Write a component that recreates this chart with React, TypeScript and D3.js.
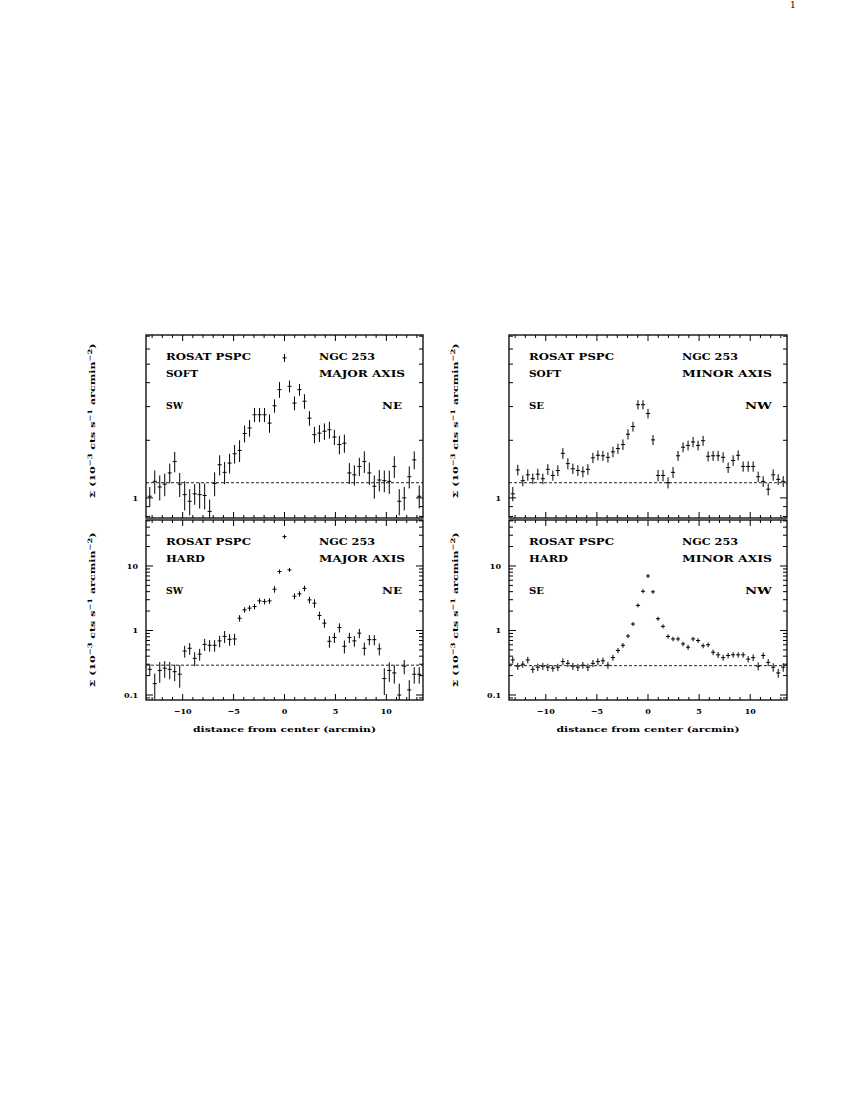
import React from "react";
import * as d3 from "d3";

// bin centres (arcmin from centre)
const distances = [
  -13.23, -12.74, -12.25, -11.76, -11.27, -10.78, -10.29, -9.8, -9.31, -8.82,
  -8.33, -7.84, -7.35, -6.86, -6.37, -5.88, -5.39, -4.9, -4.41, -3.92,
  -3.43, -2.94, -2.45, -1.96, -1.47, -0.98, -0.49, 0,
  0.49, 0.98, 1.47, 1.96, 2.45, 2.94, 3.43, 3.92, 4.41, 4.9,
  5.39, 5.88, 6.37, 6.86, 7.35, 7.84, 8.33, 8.82, 9.31, 9.8,
  10.29, 10.78, 11.27, 11.76, 12.25, 12.74, 13.23,
];

const softMajor = [
  1.02, 1.22, 1.14, 1.18, 1.35, 1.55, 1.18, 1.04, 0.96, 1.05,
  1.04, 1.03, 0.85, 1.19, 1.49, 1.36, 1.52, 1.7, 1.77, 2.17,
  2.32, 2.72, 2.72, 2.72, 2.46, 3.03, 3.68, 5.39,
  3.83, 3.13, 3.68, 3.2, 2.61, 2.14, 2.18, 2.23, 2.27, 2.08,
  1.9, 1.93, 1.35, 1.32, 1.46, 1.55, 1.35, 1.15, 1.24, 1.23,
  1.22, 1.46, 0.96, 1.0, 1.29, 1.58, 1.02,
];
const softMajorErr = [
  0.12, 0.17, 0.17, 0.16, 0.16, 0.19, 0.17, 0.18, 0.15, 0.13,
  0.16, 0.16, 0.13, 0.17, 0.18, 0.18, 0.18, 0.19, 0.23, 0.22,
  0.23, 0.23, 0.23, 0.23, 0.27, 0.24, 0.35, 0.26,
  0.27, 0.26, 0.26, 0.28, 0.23, 0.21, 0.22, 0.22, 0.23, 0.19,
  0.21, 0.21, 0.17, 0.16, 0.16, 0.2, 0.18, 0.16, 0.16, 0.16,
  0.17, 0.19, 0.15, 0.14, 0.17, 0.17, 0.14,
];

const softMinor = [
  1.05, 1.4, 1.23, 1.32, 1.26, 1.33, 1.26, 1.41, 1.31, 1.39,
  1.71, 1.51, 1.42, 1.39, 1.37, 1.41, 1.62, 1.67, 1.66, 1.63,
  1.74, 1.81, 1.9, 2.15, 2.36, 3.07, 3.07, 2.76,
  2.01, 1.31, 1.31, 1.2, 1.36, 1.66, 1.84, 1.88, 1.96, 1.88,
  1.99, 1.65, 1.66, 1.66, 1.63, 1.44, 1.57, 1.67, 1.46, 1.46,
  1.46, 1.29, 1.22, 1.11, 1.32, 1.25, 1.22,
];
const softMinorErr = [
  0.09, 0.09, 0.08, 0.09, 0.08, 0.09, 0.08, 0.09, 0.08, 0.09,
  0.11, 0.1, 0.09, 0.09, 0.09, 0.09, 0.1, 0.1, 0.1, 0.1,
  0.11, 0.11, 0.12, 0.13, 0.14, 0.17, 0.17, 0.16,
  0.12, 0.09, 0.09, 0.08, 0.09, 0.1, 0.11, 0.11, 0.12, 0.11,
  0.12, 0.1, 0.1, 0.1, 0.1, 0.09, 0.1, 0.1, 0.09, 0.09,
  0.09, 0.08, 0.08, 0.08, 0.09, 0.08, 0.08,
];

const hardMajor = [
  0.25, 0.15, 0.24, 0.26, 0.25, 0.23, 0.21, 0.48, 0.53, 0.37,
  0.43, 0.61, 0.59, 0.59, 0.69, 0.81, 0.73, 0.74, 1.55, 2.09,
  2.22, 2.35, 2.88, 2.81, 2.88, 4.36, 8.19, 28.5,
  8.7, 3.4, 3.7, 4.5, 2.98, 2.65, 1.71, 1.3, 0.68, 0.78,
  1.11, 0.57, 0.78, 0.69, 0.91, 0.53, 0.72, 0.72, 0.52, 0.18,
  0.24, 0.22, 0.1, 0.28, 0.12, 0.21, 0.21,
];
const hardMajorErr = [
  0.05, 0.065, 0.085, 0.075, 0.075, 0.066, 0.08, 0.1, 0.11, 0.09,
  0.09, 0.13, 0.12, 0.12, 0.14, 0.17, 0.15, 0.15, 0.18, 0.2,
  0.22, 0.23, 0.28, 0.28, 0.28, 0.5, 0.6, 0.8,
  0.6, 0.35, 0.35, 0.45, 0.35, 0.4, 0.25, 0.2, 0.14, 0.14,
  0.18, 0.13, 0.14, 0.13, 0.15, 0.12, 0.13, 0.13, 0.11, 0.08,
  0.08, 0.07, 0.05, 0.07, 0.05, 0.06, 0.06,
];

const hardMinor = [
  0.35, 0.28, 0.3, 0.35, 0.25, 0.27, 0.28, 0.27, 0.26, 0.27,
  0.33, 0.31, 0.28, 0.27, 0.29, 0.27, 0.31, 0.33, 0.34, 0.29,
  0.38, 0.49, 0.59, 0.82, 1.26, 2.45, 4.05, 7.0,
  3.97, 1.52, 1.16, 0.81, 0.74, 0.74, 0.62, 0.55, 0.74, 0.7,
  0.58, 0.6, 0.46, 0.42, 0.38, 0.41, 0.42, 0.42, 0.42, 0.36,
  0.38, 0.28, 0.41, 0.32, 0.27, 0.22, 0.27,
];
const hardMinorErr = [
  0.04, 0.035, 0.035, 0.04, 0.03, 0.035, 0.035, 0.035, 0.03, 0.035,
  0.04, 0.04, 0.035, 0.035, 0.035, 0.035, 0.04, 0.04, 0.04, 0.035,
  0.04, 0.045, 0.05, 0.06, 0.08, 0.12, 0.18, 0.25,
  0.18, 0.09, 0.07, 0.06, 0.06, 0.06, 0.05, 0.05, 0.06, 0.06,
  0.05, 0.05, 0.045, 0.045, 0.04, 0.04, 0.04, 0.04, 0.04, 0.04,
  0.045, 0.04, 0.045, 0.04, 0.04, 0.035, 0.04,
];

const softBackground = 1.2;
const hardMajorBackground = 0.29;
const hardMinorBackground = 0.285;

const xDomain = [-13.6, 13.6];
const softDomain = [0.785, 7.1];
const hardDomain = [0.0837, 51.6];
const xTickValues = [-10, -5, 0, 5, 10];
const xTickLabels = ["\u221210", "\u22125", "0", "5", "10"];
const softTickValues = [1];
const softTickLabels = ["1"];
const hardTickValues = [0.1, 1, 10];
const hardTickLabels = ["0.1", "1", "10"];

const FONT = "'DejaVu Serif', 'Liberation Serif', serif";

type Lbl = { text: string; width: number };

type PanelProps = {
  id: string;
  left: number;
  right: number;
  top: number;
  bottom: number;
  yDomain: number[];
  values: number[];
  errors: number[];
  background: number;
  majorValues: number[];
  majorLabels: string[];
  band: Lbl;
  instrument: Lbl;
  galaxy: Lbl;
  axis: Lbl;
  leftDir: Lbl;
  rightDir: Lbl;
  showXLabels: boolean;
};

function Panel(p: PanelProps) {
  const x = d3.scaleLinear().domain(xDomain).range([p.left, p.right]);
  const y = d3.scaleLog().domain(p.yDomain).range([p.bottom, p.top]);
  const yTicks = y.ticks().filter((t) => t >= p.yDomain[0] && t <= p.yDomain[1]);
  const isMajorY = (t: number) => Math.abs(Math.log10(t) - Math.round(Math.log10(t))) < 1e-6;
  const xMinor = d3.range(-13, 14, 1);
  const clipId = "clip-" + p.id;
  const txt = (l: Lbl, xx: number, yy: number) => (
    <text x={xx} y={yy} fontFamily={FONT} fontWeight="bold" fontSize={8.5}
      textLength={l.width} lengthAdjust="spacingAndGlyphs" fill="#000">{l.text}</text>
  );
  const halfBin = 0.2;
  return (
    <g>
      <defs>
        <clipPath id={clipId}>
          <rect x={p.left} y={p.top} width={p.right - p.left} height={p.bottom - p.top} />
        </clipPath>
      </defs>
      {xMinor.map((t) => {
        const major = t % 5 === 0;
        const len = major ? 6 : 3;
        return (
          <g key={"xt" + t} stroke="#000" strokeWidth={1}>
            <line x1={x(t)} x2={x(t)} y1={p.bottom} y2={p.bottom - len} />
            <line x1={x(t)} x2={x(t)} y1={p.top} y2={p.top + len} />
          </g>
        );
      })}
      {yTicks.map((t, i) => {
        const major = isMajorY(t);
        const len = major ? 7 : 4;
        return (
          <g key={"yt" + i} stroke="#000" strokeWidth={1}>
            <line x1={p.left} x2={p.left + len} y1={y(t)} y2={y(t)} />
            <line x1={p.right} x2={p.right - len} y1={y(t)} y2={y(t)} />
          </g>
        );
      })}
      {p.majorValues.map((t, i) => (
        <text key={"yl" + i} x={p.left - 8} y={y(t) + 3} textAnchor="end" fontFamily={FONT}
          fontWeight="bold" fontSize={8}>{p.majorLabels[i]}</text>
      ))}
      {p.showXLabels &&
        xTickValues.map((t, i) => (
          <text key={"xl" + i} x={x(t)} y={p.bottom + 14} textAnchor="middle" fontFamily={FONT}
            fontWeight="bold" fontSize={8}>{xTickLabels[i]}</text>
        ))}
      <g clipPath={`url(#${clipId})`}>
        <line x1={p.left} x2={p.right} y1={y(p.background)} y2={y(p.background)}
          stroke="#222" strokeWidth={1} strokeDasharray="3 2" />
        {distances.map((d, i) => {
          const v = p.values[i];
          const e = p.errors[i];
          const lo = Math.max(v - e, p.yDomain[0] * 0.5);
          const yc = y(v);
          const yLo = Math.max(y(lo), yc + 2);
          const yHi = Math.min(y(v + e), yc - 2);
          return (
            <g key={"pt" + i} stroke="#000" strokeWidth={1}>
              <line x1={x(d)} x2={x(d)} y1={yLo} y2={yHi} />
              <line x1={x(d - halfBin)} x2={x(d + halfBin)} y1={yc} y2={yc} />
            </g>
          );
        })}
      </g>
      <rect x={p.left} y={p.top} width={p.right - p.left} height={p.bottom - p.top}
        fill="none" stroke="#000" strokeWidth={1.3} />
      {txt(p.instrument, p.left + 20, p.top + 25)}
      {txt(p.band, p.left + 20, p.top + 41.5)}
      {txt(p.leftDir, p.left + 20, p.top + 74)}
      {txt(p.galaxy, p.left + 173, p.top + 25)}
      {txt(p.axis, p.left + 173, p.top + 41.5)}
      {txt(p.rightDir, p.left + 236, p.top + 74)}
    </g>
  );
}

function YLabel({ cx, cy }: { cx: number; cy: number }) {
  return (
    <text transform={`translate(${cx},${cy}) rotate(-90)`} textAnchor="middle" fontFamily={FONT}
      fontWeight="bold" fontSize={8} textLength={155} lengthAdjust="spacingAndGlyphs">
      {"\u03A3 (10"}
      <tspan dy={-3} fontSize={6}>{"\u22123"}</tspan>
      <tspan dy={3}>{" cts s"}</tspan>
      <tspan dy={-3} fontSize={6}>{"\u22121"}</tspan>
      <tspan dy={3}>{" arcmin"}</tspan>
      <tspan dy={-3} fontSize={6}>{"\u22122"}</tspan>
      <tspan dy={3}>{")"}</tspan>
    </text>
  );
}

export default function App() {
  const L = { left: 146, right: 423 };
  const R = { left: 509, right: 787 };
  const T = { top: 335, bottom: 518 };
  const B = { top: 520, bottom: 700 };
  const rosat = { text: "ROSAT PSPC", width: 85 };
  const ngc = { text: "NGC 253", width: 56 };
  return (
    <svg width={850} height={1100} style={{ position: "absolute", left: 0, top: 0, background: "#fff" }}>
      <text x={790} y={8} fontFamily={FONT} fontSize={9}>1</text>
      <Panel id="sm" {...L} {...T} yDomain={softDomain} values={softMajor} errors={softMajorErr}
        background={softBackground} majorValues={softTickValues} majorLabels={softTickLabels}
        instrument={rosat} band={{ text: "SOFT", width: 32 }} galaxy={ngc}
        axis={{ text: "MAJOR AXIS", width: 86 }} leftDir={{ text: "SW", width: 17 }}
        rightDir={{ text: "NE", width: 20 }} showXLabels={false} />
      <Panel id="hm" {...L} {...B} yDomain={hardDomain} values={hardMajor} errors={hardMajorErr}
        background={hardMajorBackground} majorValues={hardTickValues} majorLabels={hardTickLabels}
        instrument={rosat} band={{ text: "HARD", width: 39 }} galaxy={ngc}
        axis={{ text: "MAJOR AXIS", width: 86 }} leftDir={{ text: "SW", width: 17 }}
        rightDir={{ text: "NE", width: 20 }} showXLabels={true} />
      <Panel id="sn" {...R} {...T} yDomain={softDomain} values={softMinor} errors={softMinorErr}
        background={softBackground} majorValues={softTickValues} majorLabels={softTickLabels}
        instrument={rosat} band={{ text: "SOFT", width: 32 }} galaxy={ngc}
        axis={{ text: "MINOR AXIS", width: 90 }} leftDir={{ text: "SE", width: 15 }}
        rightDir={{ text: "NW", width: 27 }} showXLabels={false} />
      <Panel id="hn" {...R} {...B} yDomain={hardDomain} values={hardMinor} errors={hardMinorErr}
        background={hardMinorBackground} majorValues={hardTickValues} majorLabels={hardTickLabels}
        instrument={rosat} band={{ text: "HARD", width: 39 }} galaxy={ngc}
        axis={{ text: "MINOR AXIS", width: 90 }} leftDir={{ text: "SE", width: 15 }}
        rightDir={{ text: "NW", width: 27 }} showXLabels={true} />
      <YLabel cx={95} cy={421} />
      <YLabel cx={95} cy={610} />
      <YLabel cx={458} cy={421} />
      <YLabel cx={458} cy={610} />
      {[L, R].map((s, i) => (
        <text key={"xlab" + i} x={(s.left + s.right) / 2} y={731.5} textAnchor="middle" fontFamily={FONT}
          fontWeight="bold" fontSize={8} textLength={183} lengthAdjust="spacingAndGlyphs">
          distance from center (arcmin)
        </text>
      ))}
    </svg>
  );
}
